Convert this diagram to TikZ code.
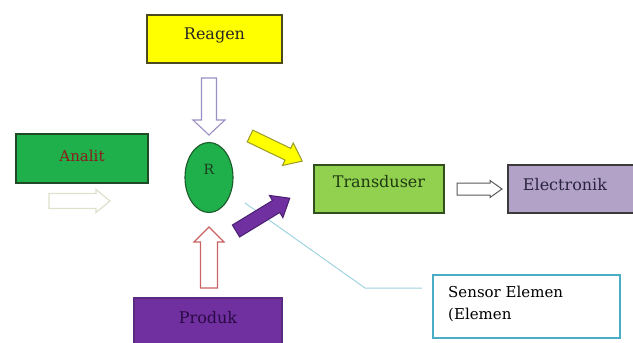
\documentclass[tikz,border=0pt]{standalone}
\usepackage{fontspec}
\setmainfont{DejaVu Serif}
\usetikzlibrary{shapes.geometric}

\definecolor{reagenFill}{HTML}{FFFF00}
\definecolor{reagenLine}{HTML}{4A4A1E}
\definecolor{analitFill}{HTML}{1FAF4B}
\definecolor{analitLine}{HTML}{1E4A25}
\definecolor{analitText}{HTML}{8B1C1C}
\definecolor{rLine}{HTML}{1A5A2A}
\definecolor{rText}{HTML}{1E3A1E}
\definecolor{transFill}{HTML}{92D050}
\definecolor{transLine}{HTML}{2F4F1F}
\definecolor{transText}{HTML}{1F3A10}
\definecolor{elecFill}{HTML}{B3A2C7}
\definecolor{elecLine}{HTML}{3A3A3A}
\definecolor{elecText}{HTML}{2A2440}
\definecolor{produkFill}{HTML}{7030A0}
\definecolor{produkLine}{HTML}{5A2A80}
\definecolor{produkText}{HTML}{2A0A45}
\definecolor{sensorLine}{HTML}{4BACC6}
\definecolor{lavArrow}{HTML}{9C8FC4}
\definecolor{pinkArrow}{HTML}{C86464}
\definecolor{grayArrow}{HTML}{5A5A5A}
\definecolor{yellowArrowLine}{HTML}{9A9A2A}
\definecolor{purpleArrowLine}{HTML}{4A2070}
\definecolor{faintArrow}{HTML}{E0E0CC}
\definecolor{leaderLine}{HTML}{9FD4E0}

\tikzset{
  % solid block arrow pointing along +x from its tail:
  % {length}{shaft width}{head width}{head length}
  pics/blockarrow/.style n args={4}{code={
    \draw[pic actions] (0,-#2/2) -- (#1-#4,-#2/2) -- (#1-#4,-#3/2) -- (#1,0)
      -- (#1-#4,#3/2) -- (#1-#4,#2/2) -- (0,#2/2) -- cycle;
  }},
  blk/.style={rectangle, line width=1.3pt, inner sep=0pt},
  lbl/.style={font=\fontsize{16}{19}\selectfont},
  hollow/.style={fill=white, line width=1.1pt, line join=miter},
}

\begin{document}
\begin{tikzpicture}[x=1pt, y=-1pt]
\clip (0,0) rectangle (633,343);
\fill[white] (0,0) rectangle (633,343);

% leader line to the sensor note (drawn first, it runs under the arrows)
\coordinate (leadA) at (245,203);
\coordinate (leadB) at (365,288);
\coordinate (leadC) at (422,288);
\draw[leaderLine, line width=1pt] (leadA) -- (leadB) -- (leadC);

% boxes
\node[blk, draw=reagenLine, fill=reagenFill, minimum width=135pt, minimum height=48pt,
  label={[lbl, yshift=4pt, text=black!85]center:Reagen}] (reagen) at (214.5,39) {};
\node[blk, draw=analitLine, fill=analitFill, minimum width=132pt, minimum height=49pt,
  label={[font=\fontsize{15}{18}\selectfont, yshift=2.5pt, text=analitText]center:Analit}] (analit) at (82,158.5) {};
\node[ellipse, draw=rLine, fill=analitFill, line width=1.1pt, inner sep=0pt,
  minimum width=48pt, minimum height=70pt] (r) at (209,177.5) {};
\node[font=\fontsize{14}{16}\selectfont, text=rText, inner sep=0pt] (rlabel) at (209,169.5) {R};
\node[blk, draw=transLine, fill=transFill, minimum width=130pt, minimum height=48pt,
  label={[lbl, yshift=7pt, text=transText]center:Transduser}] (trans) at (379,189) {};
\node[blk, draw=elecLine, fill=elecFill, minimum width=130pt, minimum height=48pt,
  label={[lbl, xshift=-8pt, yshift=4pt, text=elecText]center:Electronik}] (elec) at (573,189) {};
\node[blk, draw=produkLine, fill=produkFill, minimum width=148pt, minimum height=48pt,
  label={[lbl, yshift=4.5pt, text=produkText]center:Produk}] (produk) at (208,322) {};
\node[blk, draw=sensorLine, fill=white, line width=1.1pt, minimum width=187pt, minimum height=63pt] (sensor) at (526.5,306.5) {};
\node[anchor=north west, align=left, inner sep=0pt, font=\fontsize{15}{22}\selectfont, text=black]
  (sensortext) at (448,286) {Sensor Elemen\\(Elemen};

% block arrows
\pic[hollow, draw=lavArrow, rotate=-90] at (209,78) {blockarrow={57}{15}{32}{15}};
\pic[hollow, draw=pinkArrow, rotate=90] at (209,288) {blockarrow={61}{17}{30}{15}};
\pic[fill=reagenFill, draw=yellowArrowLine, line width=1pt, rotate=-25.7] at (250,136) {blockarrow={58}{13}{25}{16}};
\pic[fill=produkFill, draw=purpleArrowLine, line width=1pt, rotate=31.4] at (236,231) {blockarrow={63}{14}{26}{16}};
\pic[hollow, draw=grayArrow, line width=1pt] at (457,189) {blockarrow={45}{12}{17}{12}};
\pic[hollow, draw=faintArrow, line width=1.2pt] at (49,201) {blockarrow={61}{15}{23}{14}};
\end{tikzpicture}
\end{document}
